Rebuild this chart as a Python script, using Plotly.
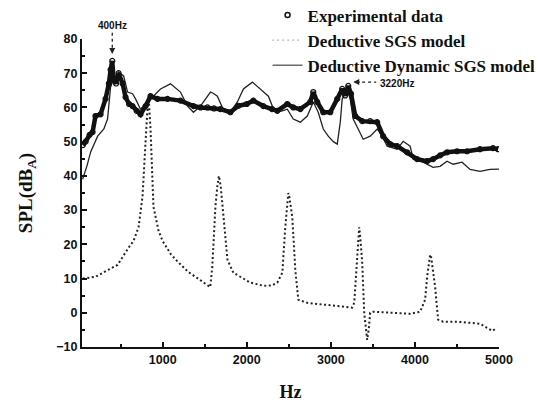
import plotly.graph_objects as go

# ---------------- data ----------------
exp_hz = [50, 83, 130, 166, 200, 261, 320, 360, 380, 400, 416, 445, 475, 523, 558, 600, 641, 690, 736,
          796, 855, 938, 1057, 1211, 1366, 1450, 1532, 1610, 1686, 1805, 1900, 2000, 2078, 2197, 2300,
          2363, 2482, 2553, 2637, 2755, 2791, 2838, 2910, 2993, 3076, 3135, 3170, 3207, 3240, 3290,
          3373, 3468, 3551, 3622, 3705, 3789, 3907, 4026, 4145, 4216, 4300, 4382, 4501, 4620, 4774,
          4929, 4990]
exp_v = [49, 50, 52, 52.8, 57.5, 58, 62.5, 67, 71, 73.6, 68, 67, 70, 67, 63, 61, 60.4, 59, 58,
         60.4, 63.3, 62.5, 62.5, 62, 60.4, 60, 60, 59.7, 59.5, 58.6, 60.5, 61, 62, 60.4, 59.5,
         59, 61, 60, 59.5, 61.6, 64.5, 61.6, 58.6, 58.6, 62.5, 65.4, 63.5, 66.3, 64, 57.5,
         56, 56, 55.7, 51.6, 49.3, 48.7, 46.9, 44.9, 44.3, 44.9, 46, 46.9, 47.2, 47.2, 47.8,
         48.1, 47.8]

sgs_hz = [50, 200, 356, 463, 594, 653, 713, 760, 796, 820, 835, 855, 890, 950, 998, 1100, 1188, 1300,
          1390, 1480, 1540, 1565, 1590, 1627, 1650, 1668, 1690, 1722, 1770, 1840, 1950, 2043, 2197,
          2300, 2363, 2423, 2458, 2494, 2505, 2541, 2577, 2613, 2720, 2900, 3029, 3254, 3278, 3314,
          3337, 3350, 3373, 3397, 3432, 3450, 3468, 3504, 3705, 3943, 4062, 4121, 4145, 4181, 4195,
          4240, 4276, 4335, 4501, 4650, 4774, 4857, 4920, 4976]
sgs_v = [10, 10.5, 12.6, 14, 19, 21, 25, 34, 50, 60, 62, 53.7, 31, 24, 21, 17, 14.7, 12,
         10.5, 9, 8, 7.5, 13.5, 31, 37, 40, 37, 28, 15.5, 11.7, 10, 8.8, 7.9,
         8, 8.8, 11.7, 25, 35, 34, 28, 12.6, 3.8, 2.9, 2.5, 2, 1.5, 2.9, 18,
         25, 22, 14.7, 0, -7.9, -5, 0, 0.3, 0, -0.3, 0.3, 3.8, 10.5, 17, 16,
         7.6, -2, -2.6, -2.6, -3, -3.2, -4.4, -5.3, -4.4]

dyn_hz = [47, 100, 143, 226, 300, 344, 380, 416, 475, 535, 582, 641, 677, 736, 820, 891, 974, 1093,
          1211, 1295, 1366, 1449, 1568, 1610, 1650, 1710, 1805, 1888, 1960, 2067, 2162, 2257, 2304,
          2363, 2420, 2482, 2553, 2637, 2720, 2791, 2850, 2910, 2969, 3030, 3076, 3112, 3135, 3195,
          3230, 3266, 3325, 3385, 3468, 3551, 3610, 3670, 3789, 3860, 3943, 3979, 4097, 4216, 4299,
          4382, 4454, 4560, 4656, 4774, 4893, 5000]
dyn_v = [39, 43, 47, 51.6, 53.7, 56.6, 66, 68.3, 70.4, 69.2, 64.5, 64, 62.5, 59.5, 61.6, 63.3, 65.4, 66.9,
         64.5, 60.4, 58.6, 60.4, 64.5, 64, 63.3, 60, 58.6, 61.6, 65.4, 67.4, 65.4, 63.3, 60.4,
         58.6, 59, 59.5, 56.6, 55.7, 57.5, 61.6, 58.6, 53.7, 51.6, 50, 49.3, 55.7, 62.5, 65.4,
         62.5, 56.6, 53.7, 50.7, 51.6, 53.7, 51.6, 48.7, 47.8, 50.1, 48.7, 44.9, 44, 42.5, 42.8,
         44.3, 43.4, 44, 41.9, 41.3, 41.9, 42]

x_ticks = [1000, 2000, 3000, 4000, 5000]
y_ticks = [-10, 0, 10, 20, 30, 40, 50, 60, 70, 80]

names = ["Experimental data", "Deductive SGS model", "Deductive Dynamic SGS model"]

# ---------------- figure ----------------
fig = go.Figure()

fig.add_trace(go.Scatter(x=sgs_hz, y=sgs_v, mode="lines", showlegend=False,
                         line=dict(color="#222", width=2, dash="2px,2.5px")))
fig.add_trace(go.Scatter(x=dyn_hz, y=dyn_v, mode="lines", showlegend=False,
                         line=dict(color="#222", width=1.3)))
fig.add_trace(go.Scatter(x=exp_hz, y=exp_v, mode="lines+markers", showlegend=False,
                         line=dict(color="#111", width=4.5),
                         marker=dict(symbol="circle-open", size=5, color="#111", line=dict(width=1.2))))

# legend proxies
fig.add_trace(go.Scatter(x=[None], y=[None], mode="markers", name="<b>" + names[0] + "</b>",
                         marker=dict(symbol="circle-open", size=5, color="#111", line=dict(width=1.5))))
fig.add_trace(go.Scatter(x=[None], y=[None], mode="lines", name="<b>" + names[1] + "</b>",
                         line=dict(color="#777", width=1.2, dash="1px,4px")))
fig.add_trace(go.Scatter(x=[None], y=[None], mode="lines", name="<b>" + names[2] + "</b>",
                         line=dict(color="#222", width=1)))

fig.update_layout(
    width=553, height=403,
    margin=dict(l=82, r=54, t=39, b=56, autoexpand=False),
    paper_bgcolor="white", plot_bgcolor="white",
    legend=dict(x=0.445, y=1.135, xanchor="left", yanchor="top",
                font=dict(family="Liberation Serif", size=17, color="#111"),
                bgcolor="rgba(0,0,0,0)", tracegroupgap=0, itemwidth=30),
    xaxis=dict(range=[40, 5000], tickvals=x_ticks, ticks="inside", ticklen=5, tickwidth=1.5,
               tickcolor="#111", showgrid=False, zeroline=False, showline=True,
               linecolor="#111", linewidth=2,
               tickfont=dict(family="Liberation Sans", size=12.5, color="#111", weight="bold"),
               minor=dict(dtick=500, ticks="inside", ticklen=3, tickcolor="#111"),
               title=dict(text="<b>Hz</b>", standoff=19,
                          font=dict(family="Liberation Serif", size=18, color="#111"))),
    yaxis=dict(range=[-10, 80], tickvals=y_ticks, ticks="inside", ticklen=5, tickwidth=1.5,
               tickcolor="#111", showgrid=False, zeroline=False, showline=True,
               linecolor="#111", linewidth=2,
               tickfont=dict(family="Liberation Sans", size=12.5, color="#111", weight="bold"),
               minor=dict(dtick=5, ticks="inside", ticklen=3, tickcolor="#111"),
               title=dict(text="<b>SPL(dB<sub>A</sub>)</b>", standoff=19,
                          font=dict(family="Liberation Serif", size=19, color="#111"))),
)

# 400Hz annotation with dotted arrow
fig.add_shape(type="line", xref="x", yref="paper", x0=400, x1=400, y0=1.02, y1=0.965,
              line=dict(color="#222", width=1.3, dash="dot"))
fig.add_annotation(x=400, y=75.6, xref="x", yref="y", ax=0, ay=-6, showarrow=True,
                   arrowhead=2, arrowsize=1, arrowwidth=1.2, arrowcolor="#222", text="")
fig.add_annotation(x=400, y=1.045, xref="x", yref="paper", text="400Hz", showarrow=False,
                   font=dict(family="Liberation Sans", size=10, color="#111", weight="bold"),
                   yanchor="middle")

# 3220Hz annotation
fig.add_shape(type="line", xref="x", yref="y", x0=3300, x1=3540, y0=67.4, y1=67.4,
              line=dict(color="#222", width=1.2, dash="dot"))
fig.add_annotation(x=3266, y=67.4, xref="x", yref="y", ax=8, ay=0, showarrow=True,
                   arrowhead=2, arrowsize=1, arrowwidth=1.2, arrowcolor="#222", text="")
fig.add_annotation(x=3560, y=67.0, xref="x", yref="y", text="3220Hz", showarrow=False,
                   xanchor="left",
                   font=dict(family="Liberation Sans", size=10, color="#111", weight="bold"))

fig.write_html("out.html", config={"displayModeBar": False},
               post_script="document.body.style.margin='0';")
